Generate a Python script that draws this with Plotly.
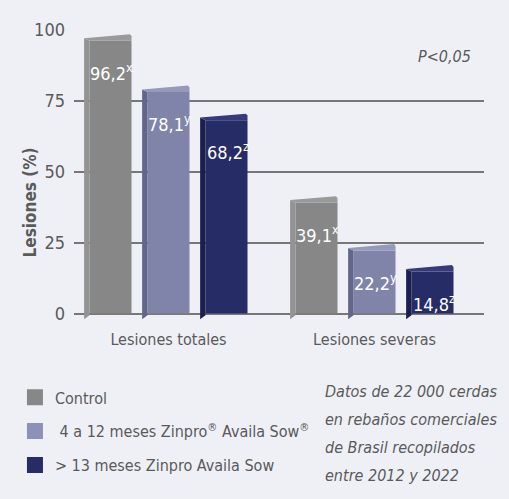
import plotly.graph_objects as go

categories = ["Lesiones totales", "Lesiones severas"]
series_names = ["Control", " 4 a 12 meses Zinpro<sup>®</sup> Availa Sow<sup>®</sup>", "> 13 meses Zinpro Availa Sow"]
control = [96.2, 39.1]
meses_4_12 = [78.1, 22.2]
meses_13 = [68.2, 14.8]
letters_control = ["x", "x"]
letters_4_12 = ["y", "y"]
letters_13 = ["z", "z"]
y_ticks = [0, 25, 50, 75, 100]
note_lines = ["Datos de 22 000 cerdas", "en rebaños comerciales", "de Brasil recopilados", "entre 2012 y 2022"]

FONT = "DejaVu Sans Condensed, Liberation Sans Narrow, sans-serif"
TXT = "#5a5a5a"
BG = "#eef0f6"

front = ["#878787", "#8084a9", "#262c66"]
side = ["#939393", "#62668a", "#1b1f4f"]
top = ["#9a9a9a", "#9599bb", "#353b7a"]

series = [control, meses_4_12, meses_13]
letters = [letters_control, letters_4_12, letters_13]

step = 0.2816
w = 0.204
sw = 0.026

fig = go.Figure()
annotations = []
for s, (vals, lets) in enumerate(zip(series, letters)):
    xs = [g + (s - 1) * step for g in range(len(categories))]
    fig.add_trace(go.Bar(x=xs, y=vals, width=w, marker=dict(color=front[s], line=dict(width=0)),
                         showlegend=False, hoverinfo="skip"))
    for x, v, l in zip(xs, vals, lets):
        x0, x1 = x - w / 2, x + w / 2
        fig.add_trace(go.Scatter(x=[x0 - sw, x0 - sw, x0, x0, x0 - sw],
                                 y=[-2.0, v + 0.9, v, -0.6, -2.0], mode="lines", fill="toself",
                                 fillcolor=side[s], line=dict(width=0), showlegend=False, hoverinfo="skip"))
        fig.add_trace(go.Scatter(x=[x0 - sw, x1 - sw * 0.3, x1, x1, x0, x0 - sw],
                                 y=[v + 0.9, v + 2.3, v + 1.6, v, v, v + 0.9], mode="lines", fill="toself",
                                 fillcolor=top[s], line=dict(width=0), showlegend=False, hoverinfo="skip"))
        annotations.append(dict(x=x + 0.005, y=v, xref="x", yref="y", yshift=-31, yanchor="middle",
                                text=f"{v:.1f}".replace(".", ",") + f"<sup>{l}</sup>",
                                showarrow=False, font=dict(family=FONT, size=18, color="white")))

for s, name in enumerate(series_names):
    fig.add_trace(go.Scatter(x=[None], y=[None], mode="markers", name=name, legendgroup=str(s),
                             marker=dict(symbol="square", size=16, color=front[s] if s != 1 else "#8d90b9")))

annotations.append(dict(x=0.904, y=0.908, xref="paper", yref="paper", xanchor="center", yanchor="middle",
                        text="<i>P<0,05</i>", showarrow=False, font=dict(family=FONT, size=16, color=TXT)))
annotations.append(dict(x=-0.107, y=0.41, xref="paper", yref="paper", xanchor="center", yanchor="middle",
                        text="<b>Lesiones (%)</b>", textangle=-90, showarrow=False,
                        font=dict(family=FONT, size=17, color=TXT)))
for i, line in enumerate(note_lines):
    annotations.append(dict(x=0.607, y=-0.238 - i * 0.0957, xref="paper", yref="paper",
                            xanchor="left", yanchor="middle",
                            text=f"<i>{line}</i>", showarrow=False, font=dict(family=FONT, size=16, color=TXT)))

fig.update_layout(
    width=509, height=499,
    margin=dict(l=74, r=25, t=30, b=176.5),
    paper_bgcolor=BG, plot_bgcolor=BG,
    barmode="overlay",
    font=dict(family=FONT, color=TXT),
    xaxis=dict(range=[-0.4587, 1.5316], tickvals=list(range(len(categories))), ticktext=categories,
               showgrid=False, zeroline=False, showline=False, ticks="",
               tickfont=dict(size=16, color=TXT), ticklabelstandoff=6),
    yaxis=dict(range=[-3, 100], tickvals=y_ticks, showgrid=True, gridcolor="#777777", gridwidth=1.5,
               zeroline=False, showline=False, ticks="", tickfont=dict(size=18, color=TXT),
               ticklabelstandoff=8),
    legend=dict(x=-0.144, y=-0.2, xanchor="left", yanchor="top", bgcolor="rgba(0,0,0,0)",
                font=dict(family=FONT, size=16, color=TXT), tracegroupgap=10),
    annotations=annotations,
)

fig.write_html("out.html", config={"displayModeBar": False},
               post_script="document.body.style.margin='0';document.body.style.overflow='hidden';")
